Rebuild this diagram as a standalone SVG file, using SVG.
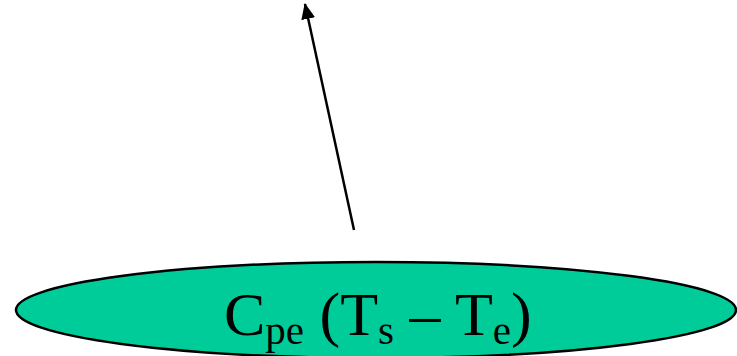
<svg xmlns="http://www.w3.org/2000/svg" width="737" height="356" viewBox="0 0 737 356">
<style>
.lbl{font-family:"Liberation Serif","Times New Roman",serif;font-size:62px;fill:#000}
.sub{font-size:41px}
</style>
<defs>
<marker id="ah" markerWidth="16" markerHeight="14" refX="15" refY="7" orient="auto" markerUnits="userSpaceOnUse" viewBox="0 0 16 14">
<path d="M0,0 L16,7 L0,14 z" fill="#000"/>
</marker>
</defs>
<g id="connectors">
<line x1="354" y1="230" x2="305" y2="4" stroke="#000" stroke-width="2.5" marker-end="url(#ah)"/>
</g>
<g id="node">
<ellipse cx="376" cy="310" rx="360" ry="48" fill="#00CC99" stroke="#000" stroke-width="2.5"/>
<text class="lbl" x="224" y="335">C<tspan class="sub" dy="9">pe</tspan><tspan dy="-9"> (T</tspan><tspan class="sub" dy="9">s</tspan><tspan dy="-9"> – T</tspan><tspan class="sub" dy="9">e</tspan><tspan dy="-9">)</tspan></text>
</g>
</svg>
